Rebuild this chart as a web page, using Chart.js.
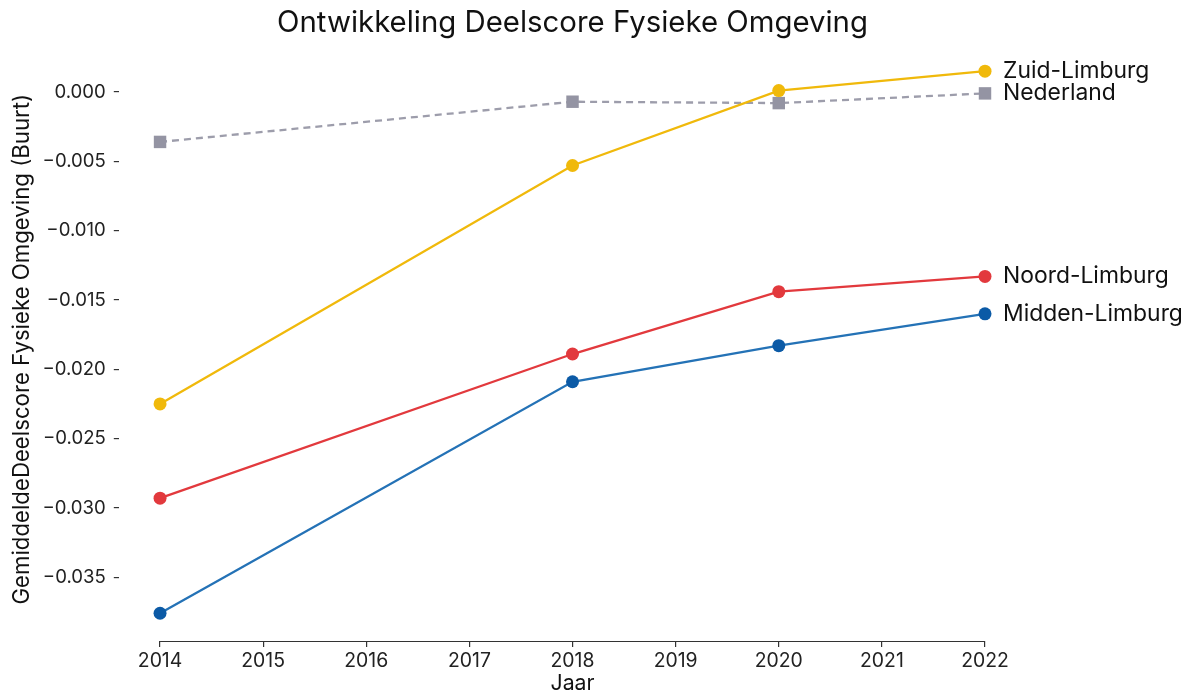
<!DOCTYPE html>
<html>
<head>
<meta charset="utf-8">
<script src="https://cdn.jsdelivr.net/npm/chart.js@4/dist/chart.umd.min.js"></script>
<style>
  html, body { margin: 0; padding: 0; background: #fff; }
  #wrap { width: 1188px; height: 698px; }
</style>
</head>
<body>
<div id="wrap"><canvas id="c" width="1188" height="698"></canvas></div>
<script>
const years = [2014, 2018, 2020, 2022];
const zuidLimburg = [-0.0225, -0.0053, 0.0001, 0.0015];
const nederland = [-0.0036, -0.0007, -0.0008, -0.0001];
const noordLimburg = [-0.0293, -0.0189, -0.0144, -0.0133];
const middenLimburg = [-0.0376, -0.0209, -0.0183, -0.0160];
const xTicks = [2014, 2015, 2016, 2017, 2018, 2019, 2020, 2021, 2022];
const yTicks = [0, -0.005, -0.010, -0.015, -0.020, -0.025, -0.030, -0.035];
const titleText = 'Ontwikkeling Deelscore Fysieke Omgeving';
const xTitle = 'Jaar';
const yTitle = 'GemiddeldeDeelscore Fysieke Omgeving (Buurt)';

const FONT = 'Inter';
const mctx = document.createElement('canvas').getContext('2d');
function fit(text, target) {
  mctx.font = '100px ' + FONT;
  return 100 * target / mctx.measureText(text).width;
}
const titleSize = fit(titleText, 591);
const yTitleSize = fit(yTitle, 511);
const xTitleSize = fit(xTitle, 44);
const xTickSize = fit('2018', 44);
const yTickSize = fit('\u22120.035', 63);
const endSize = fit('Midden-Limburg', 180);

const toPts = arr => arr.map((v, i) => ({ x: years[i], y: v }));

const series = [
  { label: 'Zuid-Limburg', data: zuidLimburg, line: '#f0b90b', point: '#f0b90b', style: 'circle', dash: [] },
  { label: 'Nederland', data: nederland, line: '#9d9dab', point: '#9494a3', style: 'rect', dash: [7, 5] },
  { label: 'Noord-Limburg', data: noordLimburg, line: '#e2393d', point: '#e2393d', style: 'circle', dash: [] },
  { label: 'Midden-Limburg', data: middenLimburg, line: '#2472b6', point: '#0b5aa6', style: 'circle', dash: [] },
];

const decor = {
  id: 'decor',
  afterDraw(chart) {
    const ctx = chart.ctx;
    const x = chart.scales.x;
    const area = chart.chartArea;
    const x0 = x.getPixelForValue(xTicks[0]);
    const x1 = x.getPixelForValue(xTicks[xTicks.length - 1]);
    ctx.save();
    ctx.strokeStyle = '#333';
    ctx.lineWidth = 1.2;
    ctx.beginPath();
    ctx.moveTo(x0, area.bottom + 0.5);
    ctx.lineTo(x1, area.bottom + 0.5);
    ctx.stroke();
    ctx.fillStyle = '#111';
    ctx.textAlign = 'center';
    ctx.textBaseline = 'middle';
    ctx.font = titleSize + 'px ' + FONT;
    ctx.fillText(titleText, (x0 + x1) / 2, 23);
    ctx.font = xTitleSize + 'px ' + FONT;
    ctx.fillText(xTitle, (x0 + x1) / 2, 684);
    ctx.textAlign = 'left';
    ctx.font = endSize + 'px ' + FONT;
    chart.data.datasets.forEach((ds, i) => {
      const meta = chart.getDatasetMeta(i);
      const pt = meta.data[meta.data.length - 1];
      ctx.fillStyle = '#111';
      ctx.fillText(ds.label, pt.x + 18, pt.y);
    });
    ctx.restore();
  }
};

new Chart(document.getElementById('c'), {
  type: 'line',
  data: {
    datasets: series.map(s => ({
      label: s.label,
      data: toPts(s.data),
      borderColor: s.line,
      backgroundColor: s.point,
      pointBackgroundColor: s.point,
      pointBorderColor: s.point,
      pointStyle: s.style,
      pointRadius: s.style === 'rect' ? 8.8 : 6.5,
      pointBorderWidth: 0,
      borderWidth: 2.3,
      borderDash: s.dash,
      tension: 0,
      fill: false,
      clip: false,
    }))
  },
  options: {
    responsive: false,
    animation: false,
    layout: { padding: { left: 0, right: 203, top: 57.35, bottom: 0 } },
    plugins: {
      legend: { display: false },
      title: { display: false },
      tooltip: { enabled: false },
    },
    scales: {
      x: {
        type: 'linear',
        min: 2013.6,
        max: 2022,
        afterBuildTicks: axis => { axis.ticks = xTicks.map(v => ({ value: v })); },
        afterFit: scale => { scale.height = 57; },
        border: { display: false },
        grid: { drawOnChartArea: false, drawTicks: true, tickLength: 6, color: '#333', lineWidth: 1.2 },
        ticks: { color: '#222', font: { family: FONT, size: xTickSize }, padding: 3, maxRotation: 0, callback: v => String(v) },
        title: { display: false },
      },
      y: {
        type: 'linear',
        min: -0.0396,
        max: 0.0025,
        afterBuildTicks: axis => { axis.ticks = yTicks.map(v => ({ value: v })); },
        afterFit: scale => { scale.width = 118.8; },
        border: { display: false },
        grid: { drawOnChartArea: false, drawTicks: true, tickLength: 5, color: '#333', lineWidth: 1.2 },
        ticks: {
          color: '#222', font: { family: FONT, size: yTickSize }, padding: 8,
          callback: v => (v < 0 ? '\u2212' : '') + Math.abs(v).toFixed(3)
        },
        title: { display: true, text: yTitle, color: '#111', font: { family: FONT, size: yTitleSize }, padding: { top: 9, bottom: 0 } },
      }
    }
  },
  plugins: [decor]
});
</script>
</body>
</html>
